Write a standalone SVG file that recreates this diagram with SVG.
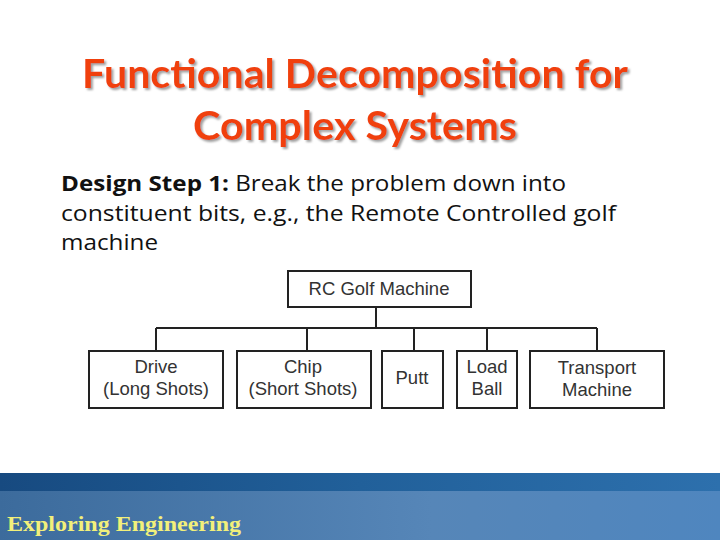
<svg xmlns="http://www.w3.org/2000/svg" width="720" height="540" viewBox="0 0 720 540">
<defs>
<linearGradient id="band1" x1="0" y1="0" x2="1" y2="0">
<stop offset="0" stop-color="#174a80"/><stop offset="0.5" stop-color="#21609a"/><stop offset="1" stop-color="#2d70ad"/>
</linearGradient>
<linearGradient id="band2" x1="0" y1="0" x2="1" y2="0">
<stop offset="0" stop-color="#3c6b9c"/><stop offset="0.6" stop-color="#5686b8"/><stop offset="1" stop-color="#4f86bf"/>
</linearGradient>
<filter id="sh" x="-5%" y="-20%" width="110%" height="140%">
<feGaussianBlur in="SourceAlpha" stdDeviation="1"/>
<feOffset dx="2" dy="2" result="o"/>
<feFlood flood-color="#a0a0a0"/>
<feComposite in2="o" operator="in"/>
<feMerge><feMergeNode/><feMergeNode in="SourceGraphic"/></feMerge>
</filter>
</defs>
<style>
.title{font-family:"Lato","Liberation Sans",sans-serif;font-weight:bold;font-size:40px;fill:#f0400e;text-anchor:middle}
.body{font-family:"Open Sans","Liberation Sans",sans-serif;font-size:21px;fill:#111}
.box{fill:#fff;stroke:#222;stroke-width:2}
.lbl{font-family:"Liberation Sans",Arial,sans-serif;font-size:18.5px;fill:#333;text-anchor:middle}
.con{stroke:#222;stroke-width:2;fill:none}
.foot{font-family:"Liberation Serif","Times New Roman",serif;font-weight:bold;font-size:22px;fill:#f2f07a}
</style>
<rect width="720" height="540" fill="#fff"/>
<g filter="url(#sh)">
<text class="title" x="355" y="88" textLength="546" lengthAdjust="spacingAndGlyphs">Functional Decomposition for</text>
<text class="title" x="355" y="140" textLength="324" lengthAdjust="spacingAndGlyphs">Complex Systems</text>
</g>
<text class="body" x="61" y="191" textLength="505" lengthAdjust="spacingAndGlyphs"><tspan font-weight="bold">Design Step 1:</tspan> Break the problem down into</text>
<text class="body" x="61" y="221" textLength="555" lengthAdjust="spacingAndGlyphs">constituent bits, e.g., the Remote Controlled golf</text>
<text class="body" x="61" y="250" textLength="97" lengthAdjust="spacingAndGlyphs">machine</text>
<g id="connectors">
<path class="con" d="M376 307V328M156 328H597M156 328V351M307 328V351M414 328V351M487 328V351M597 328V351"/>
</g>
<g id="rc">
<rect class="box" x="288" y="271" width="183" height="36"/>
<text class="lbl" x="379" y="295">RC Golf Machine</text>
</g>
<g id="drive">
<rect class="box" x="89" y="351" width="134" height="57"/>
<text class="lbl" x="156" y="373">Drive</text>
<text class="lbl" x="156" y="395">(Long Shots)</text>
</g>
<g id="chip">
<rect class="box" x="237" y="351" width="134" height="57"/>
<text class="lbl" x="303" y="373">Chip</text>
<text class="lbl" x="303" y="395">(Short Shots)</text>
</g>
<g id="putt">
<rect class="box" x="382" y="351" width="61" height="57"/>
<text class="lbl" x="412" y="384">Putt</text>
</g>
<g id="load">
<rect class="box" x="457" y="351" width="60" height="57"/>
<text class="lbl" x="487" y="373">Load</text>
<text class="lbl" x="487" y="395">Ball</text>
</g>
<g id="transport">
<rect class="box" x="530" y="351" width="134" height="57"/>
<text class="lbl" x="597" y="374">Transport</text>
<text class="lbl" x="597" y="396">Machine</text>
</g>
<rect x="0" y="473" width="720" height="18" fill="url(#band1)"/>
<rect x="0" y="491" width="720" height="49" fill="url(#band2)"/>
<text class="foot" x="7" y="531" textLength="234" lengthAdjust="spacingAndGlyphs">Exploring Engineering</text>
</svg>
